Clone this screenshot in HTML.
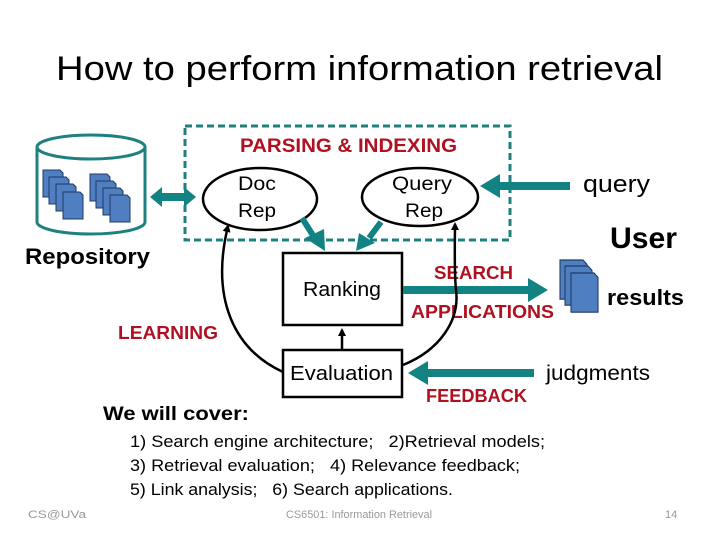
<!DOCTYPE html>
<html><head><meta charset="utf-8"><style>
html,body{margin:0;padding:0;background:#fff;}
svg{display:block;}
text{font-family:"Liberation Sans",sans-serif;}
</style></head><body>
<svg width="720" height="540" viewBox="0 0 720 540" xmlns="http://www.w3.org/2000/svg">
<defs>
<marker id="bk" markerWidth="8" markerHeight="8" refX="6" refY="4" orient="auto" markerUnits="userSpaceOnUse"><path d="M0,0 L8,4 L0,8 z" fill="#000"/></marker>
<g id="doc"><path d="M0,0 h17 l3,3 v24 h-20 z" fill="#4f7fc0" stroke="#1e3a66" stroke-width="1"/></g>
</defs>
<text x="56" y="80" font-size="34" textLength="607" lengthAdjust="spacingAndGlyphs">How to perform information retrieval</text>

<rect x="185" y="126" width="325" height="114" fill="none" stroke="#1f7f7f" stroke-width="3" stroke-dasharray="7,4"/>
<text x="240" y="152" font-size="19" font-weight="bold" fill="#b01020" textLength="217" lengthAdjust="spacingAndGlyphs">PARSING &amp; INDEXING</text>

<path d="M37,147 v75 a54,12 0 0 0 108,0 v-75" fill="#fff" stroke="#1f8080" stroke-width="3"/>
<ellipse cx="91" cy="147" rx="54" ry="12" fill="#fff" stroke="#1f8080" stroke-width="3"/>
<use href="#doc" x="43" y="170"/><use href="#doc" x="49" y="177"/><use href="#doc" x="56" y="184"/><use href="#doc" x="63" y="192"/>
<use href="#doc" x="90" y="174"/><use href="#doc" x="96" y="181"/><use href="#doc" x="103" y="188"/><use href="#doc" x="110" y="195"/>
<text x="25" y="264" font-size="22" font-weight="bold" textLength="125" lengthAdjust="spacingAndGlyphs">Repository</text>

<path d="M150,197 l12,-10 v6 h22 v-6 l12,10 l-12,10 v-6 h-22 v6 z" fill="#138282"/>

<ellipse cx="260" cy="199" rx="57" ry="31" fill="#fff" stroke="#000" stroke-width="2.5"/>
<text x="238" y="190" font-size="19" textLength="38" lengthAdjust="spacingAndGlyphs">Doc</text>
<text x="238" y="217" font-size="19" textLength="38" lengthAdjust="spacingAndGlyphs">Rep</text>
<ellipse cx="420" cy="197" rx="58" ry="29" fill="#fff" stroke="#000" stroke-width="2.5"/>
<text x="392" y="190" font-size="19" textLength="60" lengthAdjust="spacingAndGlyphs">Query</text>
<text x="405" y="217" font-size="19" textLength="38" lengthAdjust="spacingAndGlyphs">Rep</text>

<path d="M570,182 h-70 v-8 l-20,12 l20,12 v-8 h70 z" fill="#138282"/>
<text x="583" y="192" font-size="24" textLength="67" lengthAdjust="spacingAndGlyphs">query</text>
<text x="610" y="248" font-size="30" font-weight="bold" textLength="67" lengthAdjust="spacingAndGlyphs">User</text>

<line x1="302" y1="218" x2="314" y2="237" stroke="#138282" stroke-width="6"/>
<path d="M305,238 l20,13 l-1,-22 z" fill="#138282"/>
<line x1="381" y1="222" x2="369" y2="238" stroke="#138282" stroke-width="6"/>
<path d="M359,233 l-3,18 l19,-8 z" fill="#138282"/>

<rect x="283" y="253" width="119" height="72" fill="#fff" stroke="#000" stroke-width="2.5"/>
<text x="303" y="296" font-size="20" textLength="78" lengthAdjust="spacingAndGlyphs">Ranking</text>
<rect x="283" y="350" width="119" height="47" fill="#fff" stroke="#000" stroke-width="2.5"/>
<text x="290" y="380" font-size="20" textLength="103" lengthAdjust="spacingAndGlyphs">Evaluation</text>
<line x1="342" y1="350" x2="342" y2="330" stroke="#000" stroke-width="2.5" marker-end="url(#bk)"/>

<path d="M403,286 h125 v-8 l20,12 l-20,12 v-8 h-125 z" fill="#138282"/>
<text x="434" y="279" font-size="18" font-weight="bold" fill="#b01020" textLength="79" lengthAdjust="spacingAndGlyphs">SEARCH</text>
<text x="411" y="318" font-size="18" font-weight="bold" fill="#b01020" textLength="143" lengthAdjust="spacingAndGlyphs">APPLICATIONS</text>
<g transform="translate(560,260) scale(1.35,1.45)"><path d="M0,0 h17 l3,3 v24 h-20 z" fill="#4f7fc0" stroke="#1e3a66" stroke-width="0.8"/></g>
<g transform="translate(565,266) scale(1.35,1.45)"><path d="M0,0 h17 l3,3 v24 h-20 z" fill="#4f7fc0" stroke="#1e3a66" stroke-width="0.8"/></g>
<g transform="translate(571,273) scale(1.35,1.45)"><path d="M0,0 h17 l3,3 v24 h-20 z" fill="#4f7fc0" stroke="#1e3a66" stroke-width="0.8"/></g>
<text x="607" y="305" font-size="22" font-weight="bold" textLength="77" lengthAdjust="spacingAndGlyphs">results</text>

<path d="M534,369 h-106 v-8 l-20,12 l20,12 v-8 h106 z" fill="#138282"/>
<text x="546" y="380" font-size="21" textLength="104" lengthAdjust="spacingAndGlyphs">judgments</text>
<text x="426" y="402" font-size="18" font-weight="bold" fill="#b01020" textLength="101" lengthAdjust="spacingAndGlyphs">FEEDBACK</text>

<path d="M283,372 C235,350 210,300 228,226" fill="none" stroke="#000" stroke-width="2.5" marker-end="url(#bk)"/>
<text x="118" y="339" font-size="18" font-weight="bold" fill="#b01020" textLength="100" lengthAdjust="spacingAndGlyphs">LEARNING</text>
<path d="M403,365 C440,350 460,320 456,290 C454,270 455,240 455,224" fill="none" stroke="#000" stroke-width="2.5" marker-end="url(#bk)"/>

<text x="103" y="420" font-size="19" font-weight="bold" textLength="146" lengthAdjust="spacingAndGlyphs">We will cover:</text>
<text x="130" y="447" font-size="17" textLength="415" lengthAdjust="spacingAndGlyphs">1) Search engine architecture;&#160;&#160; 2)Retrieval models;</text>
<text x="130" y="471" font-size="17" textLength="390" lengthAdjust="spacingAndGlyphs">3) Retrieval evaluation;&#160;&#160; 4) Relevance feedback;</text>
<text x="130" y="495" font-size="17" textLength="323" lengthAdjust="spacingAndGlyphs">5) Link analysis;&#160;&#160; 6) Search applications.</text>
<text x="28" y="518" font-size="11" fill="#999" textLength="58" lengthAdjust="spacingAndGlyphs">CS@UVa</text>
<text x="286" y="518" font-size="11" fill="#999" textLength="146" lengthAdjust="spacingAndGlyphs">CS6501: Information Retrieval</text>
<text x="665" y="518" font-size="11" fill="#999">14</text>
</svg>
</body></html>
